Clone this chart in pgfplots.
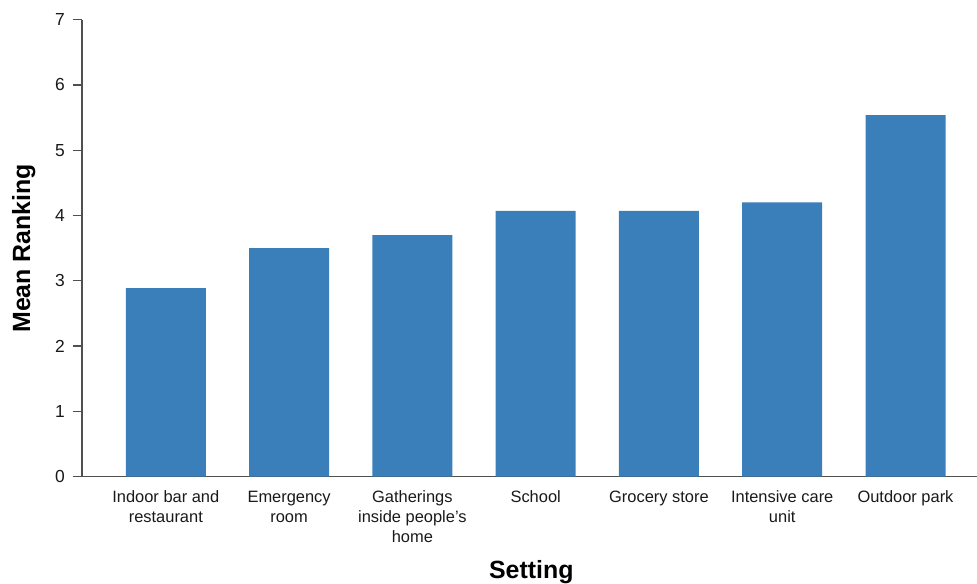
\documentclass[border=0pt]{standalone}
\usepackage{pgfplots}
\pgfplotsset{compat=1.18}
\usepackage{fontspec}
\setmainfont{Liberation Sans}
\definecolor{barblue}{RGB}{58,127,185}
\definecolor{axgray}{RGB}{80,80,80}
\begin{document}
\begin{tikzpicture}
\begin{axis}[
  scale only axis,
  width=895bp, height=457bp,
  xmin=-0.68, xmax=6.58,
  ymin=0, ymax=7,
  axis x line*=bottom, axis y line*=left,
  axis line style={axgray, line width=1.3bp},
  ytick={0,1,2,3,4,5,6,7},
  xtick={0,1,2,3,4,5,6},
  xticklabels={{Indoor bar and\\restaurant},{Emergency\\room},{Gatherings\\inside people’s\\home},{School},{Grocery store},{Intensive care\\unit},{Outdoor park}},
  x tick style={draw=none},
  y tick style={axgray, line width=1.3bp},
  tick align=outside,
  major tick length=9bp,
  /pgf/number format/assume math mode=true,
  xticklabel style={font=\fontsize{16.5}{20}\selectfont, text=black!90, align=center, inner sep=3bp, yshift=-2bp},
  yticklabel style={font=\fontsize{17.5}{20}\selectfont, text=black!90, inner sep=0pt, xshift=-8bp},
  xlabel={Setting},
  ylabel={Mean Ranking},
  xlabel style={at={(axis description cs:0.502,-0.208)}, anchor=center, font=\fontsize{25}{30}\selectfont\bfseries},
  ylabel style={at={(axis description cs:-0.065,0.5)}, anchor=center, font=\fontsize{25}{30}\selectfont\bfseries},
  clip=false,
]
\addplot[ybar, bar width=80bp, bar shift=0pt, fill=barblue, draw=none] coordinates {
  (0,2.89) (1,3.50) (2,3.70) (3,4.07) (4,4.07) (5,4.20) (6,5.54)
};
\end{axis}
\pgfresetboundingbox
\path[use as bounding box] (-82bp,-107.3bp) rectangle (895bp,476.7bp);
\end{tikzpicture}
\end{document}
